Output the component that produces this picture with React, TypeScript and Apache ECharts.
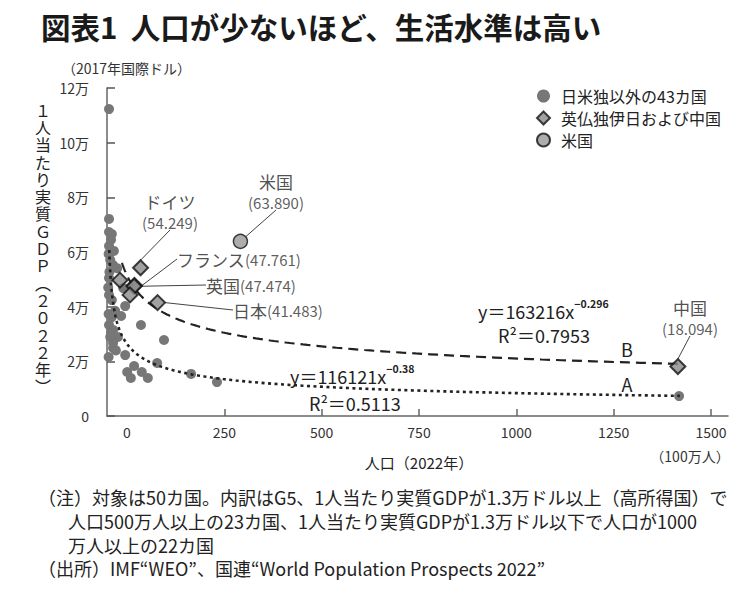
import React, { useEffect, useRef } from 'react';
import * as echarts from 'echarts';

// ---- data ----
const xTicks = [0, 250, 500, 750, 1000, 1250, 1500];
const yTicks = [0, 20000, 40000, 60000, 80000, 100000, 120000];

// 日米独以外の43カ国 (population, million / GDP per capita, 2017 intl $)
const otherPop = [5, 5, 5, 12, 5, 4, 17, 8, 15, 25, 6, 5, 5, 12, 40, 45, 4, 12, 35, 84, 5, 15, 8, 27, 15, 15, 45, 4, 141, 67, 86, 50, 59, 101, 124, 208, 272, 1415, 10, 3, 20, 10, 22];
const otherGdp = [112300, 72100, 67300, 66600, 62200, 59300, 60400, 57100, 55200, 54100, 52700, 50500, 44300, 42400, 46800, 40200, 37300, 36200, 36600, 33300, 33300, 31500, 28900, 28900, 26700, 24900, 22300, 21600, 27800, 18300, 16100, 16100, 13900, 13900, 19400, 15400, 12400, 7300, 64500, 47000, 38500, 30300, 24000];

// 英仏独伊日および中国
const g6Names = ['ドイツ', '', 'フランス', '英国', '', '日本', '中国'];
const g6Pop = [83, 32, 68, 67, 57, 125, 1412];
const g6Gdp = [54249, 49700, 47761, 47474, 44300, 41483, 18094];

// 米国
const usName = '米国';
const usPop = [330];
const usGdp = [63890];

// printed regression curves
const trendB = { coef: 163216, exp: -0.296, from: 37, to: 1412 };
const trendA = { coef: 116121, exp: -0.38, from: 5.5, to: 1417 };

const FONT = "'Noto Sans CJK JP', 'Noto Sans', sans-serif";

function curve(t: { coef: number; exp: number; from: number; to: number }) {
  const pts: number[][] = [];
  const n = 160;
  for (let i = 0; i <= n; i++) {
    const x = t.from * Math.pow(t.to / t.from, i / n);
    pts.push([x, t.coef * Math.pow(x, t.exp)]);
  }
  return pts;
}

const fmtVal = (v: number) => '(' + (v / 1000).toFixed(3) + ')';

const labelPos: Record<string, { x: number; y: number; align: string; two: boolean }> = {
  'ドイツ': { x: 170, y: 212, align: 'center', two: true },
  'フランス': { x: 177, y: 259, align: 'left', two: false },
  '英国': { x: 206, y: 285, align: 'left', two: false },
  '日本': { x: 233, y: 310, align: 'left', two: false },
  '中国': { x: 690, y: 318, align: 'center', two: true },
  '米国': { x: 276, y: 192, align: 'center', two: true },
};

const richStyle = {
  n: { fontSize: 17, lineHeight: 21, color: '#222', fontFamily: FONT },
  v: { fontSize: 15, lineHeight: 21, color: '#333', fontFamily: FONT },
};

function labelText(name: string, gdp: number) {
  const p = labelPos[name];
  return p.two ? `{n|${name}}\n{v|${fmtVal(gdp)}}` : `{n|${name}}{v|${fmtVal(gdp)}}`;
}

export default function App() {
  const ref = useRef<HTMLDivElement>(null);
  useEffect(() => {
    document.body.style.margin = '0';
    const chart = echarts.init(ref.current!, null, { renderer: 'svg' });

    const g6Data = g6Pop.map((p, i) => {
      const name = g6Names[i];
      return {
        name,
        value: [p, g6Gdp[i]],
        label: name ? { show: true, formatter: labelText(name, g6Gdp[i]), rich: richStyle } : { show: false },
        labelLine: { show: !!name },
      };
    });
    const usData = usPop.map((p, i) => ({
      name: usName,
      value: [p, usGdp[i]],
      label: { show: true, formatter: labelText(usName, usGdp[i]), rich: richStyle },
      labelLine: { show: true },
    }));

    const layoutFn = (names: string[]) => (params: any) => {
      const p = labelPos[names[params.dataIndex]];
      if (!p) return {};
      return { x: p.x, y: p.y, align: p.align, verticalAlign: 'middle' };
    };

    const labelLineCfg = { show: true, length2: 0, smooth: false, lineStyle: { color: '#444', width: 1 } };

    const eqStyle = { fontFamily: FONT, fill: '#222' };
    const eqRich = {
      a: { fontSize: 18, fontFamily: FONT, color: '#222', lineHeight: 22, verticalAlign: 'bottom' },
      s: { fontSize: 10.5, fontFamily: FONT, color: '#222', fontWeight: 'bold', lineHeight: 22, verticalAlign: 'top' },
    };
    const noteSize = 18;

    const option: any = {
      animation: false,
      backgroundColor: '#fff',
      textStyle: { fontFamily: FONT },
      title: {
        text: '図表1  人口が少ないほど、生活水準は高い',
        left: 36,
        top: 6,
        textStyle: { fontSize: 29.5, fontWeight: 'bold', color: '#1a1a1a', fontFamily: FONT },
      },
      legend: {
        orient: 'vertical',
        left: 536,
        top: 88,
        padding: 0,
        itemWidth: 13,
        itemHeight: 13,
        itemGap: 6,
        textStyle: { fontSize: 16, color: '#222', fontFamily: FONT, padding: [0, 0, 0, 6] },
        data: ['日米独以外の43カ国', '英仏独伊日および中国', '米国'],
      },
      grid: [
        { left: 107, right: 22, top: 88, bottom: 178 },
        { left: 127, right: 39, top: 88, bottom: 178 },
      ],
      xAxis: [
        {
          type: 'value',
          gridIndex: 0,
          min: 0,
          max: 1536,
          axisLine: { show: true, lineStyle: { color: '#666', width: 1.5 } },
          axisTick: { show: false },
          axisLabel: { show: false },
          splitLine: { show: false },
        },
        {
          type: 'value',
          gridIndex: 1,
          min: 0,
          max: 1500,
          interval: 250,
          axisLine: { show: false },
          axisTick: {
            show: true,
            inside: true,
            length: 7,
            customValues: xTicks.slice(1),
            lineStyle: { color: '#666', width: 1.5 },
          },
          axisLabel: {
            fontSize: 14,
            color: '#333',
            margin: 9,
            fontFamily: FONT,
            customValues: xTicks,
            formatter: (v: number) => String(v),
          },
          splitLine: { show: false },
          name: '人口（2022年）',
          nameLocation: 'middle',
          nameGap: 39,
          nameTextStyle: { fontSize: 15, color: '#222', fontFamily: FONT },
        },
      ],
      yAxis: [
        {
          type: 'value',
          gridIndex: 0,
          min: 0,
          max: 120000,
          interval: 20000,
          axisLine: { show: true, lineStyle: { color: '#666', width: 1.5 } },
          axisTick: { show: true, inside: true, length: 8, lineStyle: { color: '#555', width: 1.5 } },
          axisLabel: {
            fontSize: 14,
            color: '#333',
            margin: 18,
            fontFamily: FONT,
            customValues: yTicks,
            formatter: (v: number) => (v === 0 ? '0' : v / 10000 + '万'),
          },
          splitLine: { show: false },
        },
        { type: 'value', gridIndex: 1, min: 0, max: 1, show: false },
      ],
      series: [
        {
          name: '日米独以外の43カ国',
          type: 'scatter',
          xAxisIndex: 0,
          yAxisIndex: 0,
          symbol: 'circle',
          symbolSize: 10,
          itemStyle: { color: '#777', opacity: 1 },
          z: 1,
          data: otherPop.map((p, i) => [p, otherGdp[i]]),
        },
        {
          name: 'trendB',
          type: 'line',
          xAxisIndex: 0,
          yAxisIndex: 0,
          showSymbol: false,
          symbol: 'none',
          silent: true,
          lineStyle: { color: '#222', width: 2.2, type: [10, 6] },
          z: 2,
          data: curve(trendB),
        },
        {
          name: 'trendA',
          type: 'line',
          xAxisIndex: 0,
          yAxisIndex: 0,
          showSymbol: false,
          symbol: 'none',
          silent: true,
          lineStyle: { color: '#222', width: 2.6, type: [3, 3.5] },
          z: 2,
          data: curve(trendA),
        },
        {
          name: '英仏独伊日および中国',
          type: 'scatter',
          xAxisIndex: 0,
          yAxisIndex: 0,
          symbol: 'diamond',
          symbolSize: 15,
          itemStyle: { color: '#8a8a8a', borderColor: '#111', borderWidth: 2 },
          labelLine: labelLineCfg,
          labelLayout: layoutFn(g6Names),
          z: 3,
          data: g6Data,
        },
        {
          name: '米国',
          type: 'scatter',
          xAxisIndex: 0,
          yAxisIndex: 0,
          symbol: 'circle',
          symbolSize: 14,
          itemStyle: { color: '#999', borderColor: '#111', borderWidth: 1.5 },
          labelLine: labelLineCfg,
          labelLayout: layoutFn([usName]),
          z: 3,
          data: usData,
        },
      ],
      graphic: [
        {
          type: 'text',
          x: 62,
          y: 68,
          style: { ...eqStyle, text: '（2017年国際ドル）', fontSize: 14, align: 'left', verticalAlign: 'middle', fill: '#333' },
        },
        {
          type: 'text',
          x: 43,
          y: 248,
          style: {
            ...eqStyle,
            text: '１\n人\n当\nた\nり\n実\n質\nＧ\nＤ\nＰ\n︵\n２\n０\n２\n２\n年\n︶',
            fontSize: 16,
            lineHeight: 17.3,
            align: 'center',
            verticalAlign: 'middle',
          },
        },
        {
          type: 'text',
          x: 690,
          y: 456,
          style: { ...eqStyle, text: '（100万人）', fontSize: 14, align: 'center', verticalAlign: 'middle', fill: '#333' },
        },
        {
          type: 'text',
          x: 478,
          y: 309,
          style: { ...eqStyle, text: '{a|y＝163216x}{s|−0.296}', align: 'left', verticalAlign: 'middle', rich: eqRich },
        },
        {
          type: 'text',
          x: 544,
          y: 335,
          style: { ...eqStyle, text: 'R²＝0.7953', fontSize: 18, align: 'center', verticalAlign: 'middle' },
        },
        {
          type: 'text',
          x: 627,
          y: 349,
          style: { ...eqStyle, text: 'B', fontSize: 18, align: 'center', verticalAlign: 'middle' },
        },
        {
          type: 'text',
          x: 627,
          y: 384,
          style: { ...eqStyle, text: 'A', fontSize: 18, align: 'center', verticalAlign: 'middle' },
        },
        {
          type: 'text',
          x: 290,
          y: 374,
          style: { ...eqStyle, text: '{a|y＝116121x}{s|−0.38}', align: 'left', verticalAlign: 'middle', rich: eqRich },
        },
        {
          type: 'text',
          x: 309,
          y: 403,
          style: { ...eqStyle, text: 'R²＝0.5113', fontSize: 18, align: 'left', verticalAlign: 'middle' },
        },
        {
          type: 'text',
          x: 38,
          y: 497,
          style: { ...eqStyle, text: '（注）対象は50カ国。内訳はG5、1人当たり実質GDPが1.3万ドル以上（高所得国）で', fontSize: noteSize, align: 'left', verticalAlign: 'middle' },
        },
        {
          type: 'text',
          x: 68,
          y: 521,
          style: { ...eqStyle, text: '人口500万人以上の23カ国、1人当たり実質GDPが1.3万ドル以下で人口が1000', fontSize: noteSize, align: 'left', verticalAlign: 'middle' },
        },
        {
          type: 'text',
          x: 68,
          y: 545,
          style: { ...eqStyle, text: '万人以上の22カ国', fontSize: noteSize, align: 'left', verticalAlign: 'middle' },
        },
        {
          type: 'text',
          x: 38,
          y: 568,
          style: { ...eqStyle, text: '（出所）IMF“WEO”、国連“World Population Prospects 2022”', fontSize: noteSize, align: 'left', verticalAlign: 'middle' },
        },
      ],
    };

    chart.setOption(option);
    return () => chart.dispose();
  }, []);
  return <div ref={ref} style={{ width: 750, height: 594 }} />;
}
